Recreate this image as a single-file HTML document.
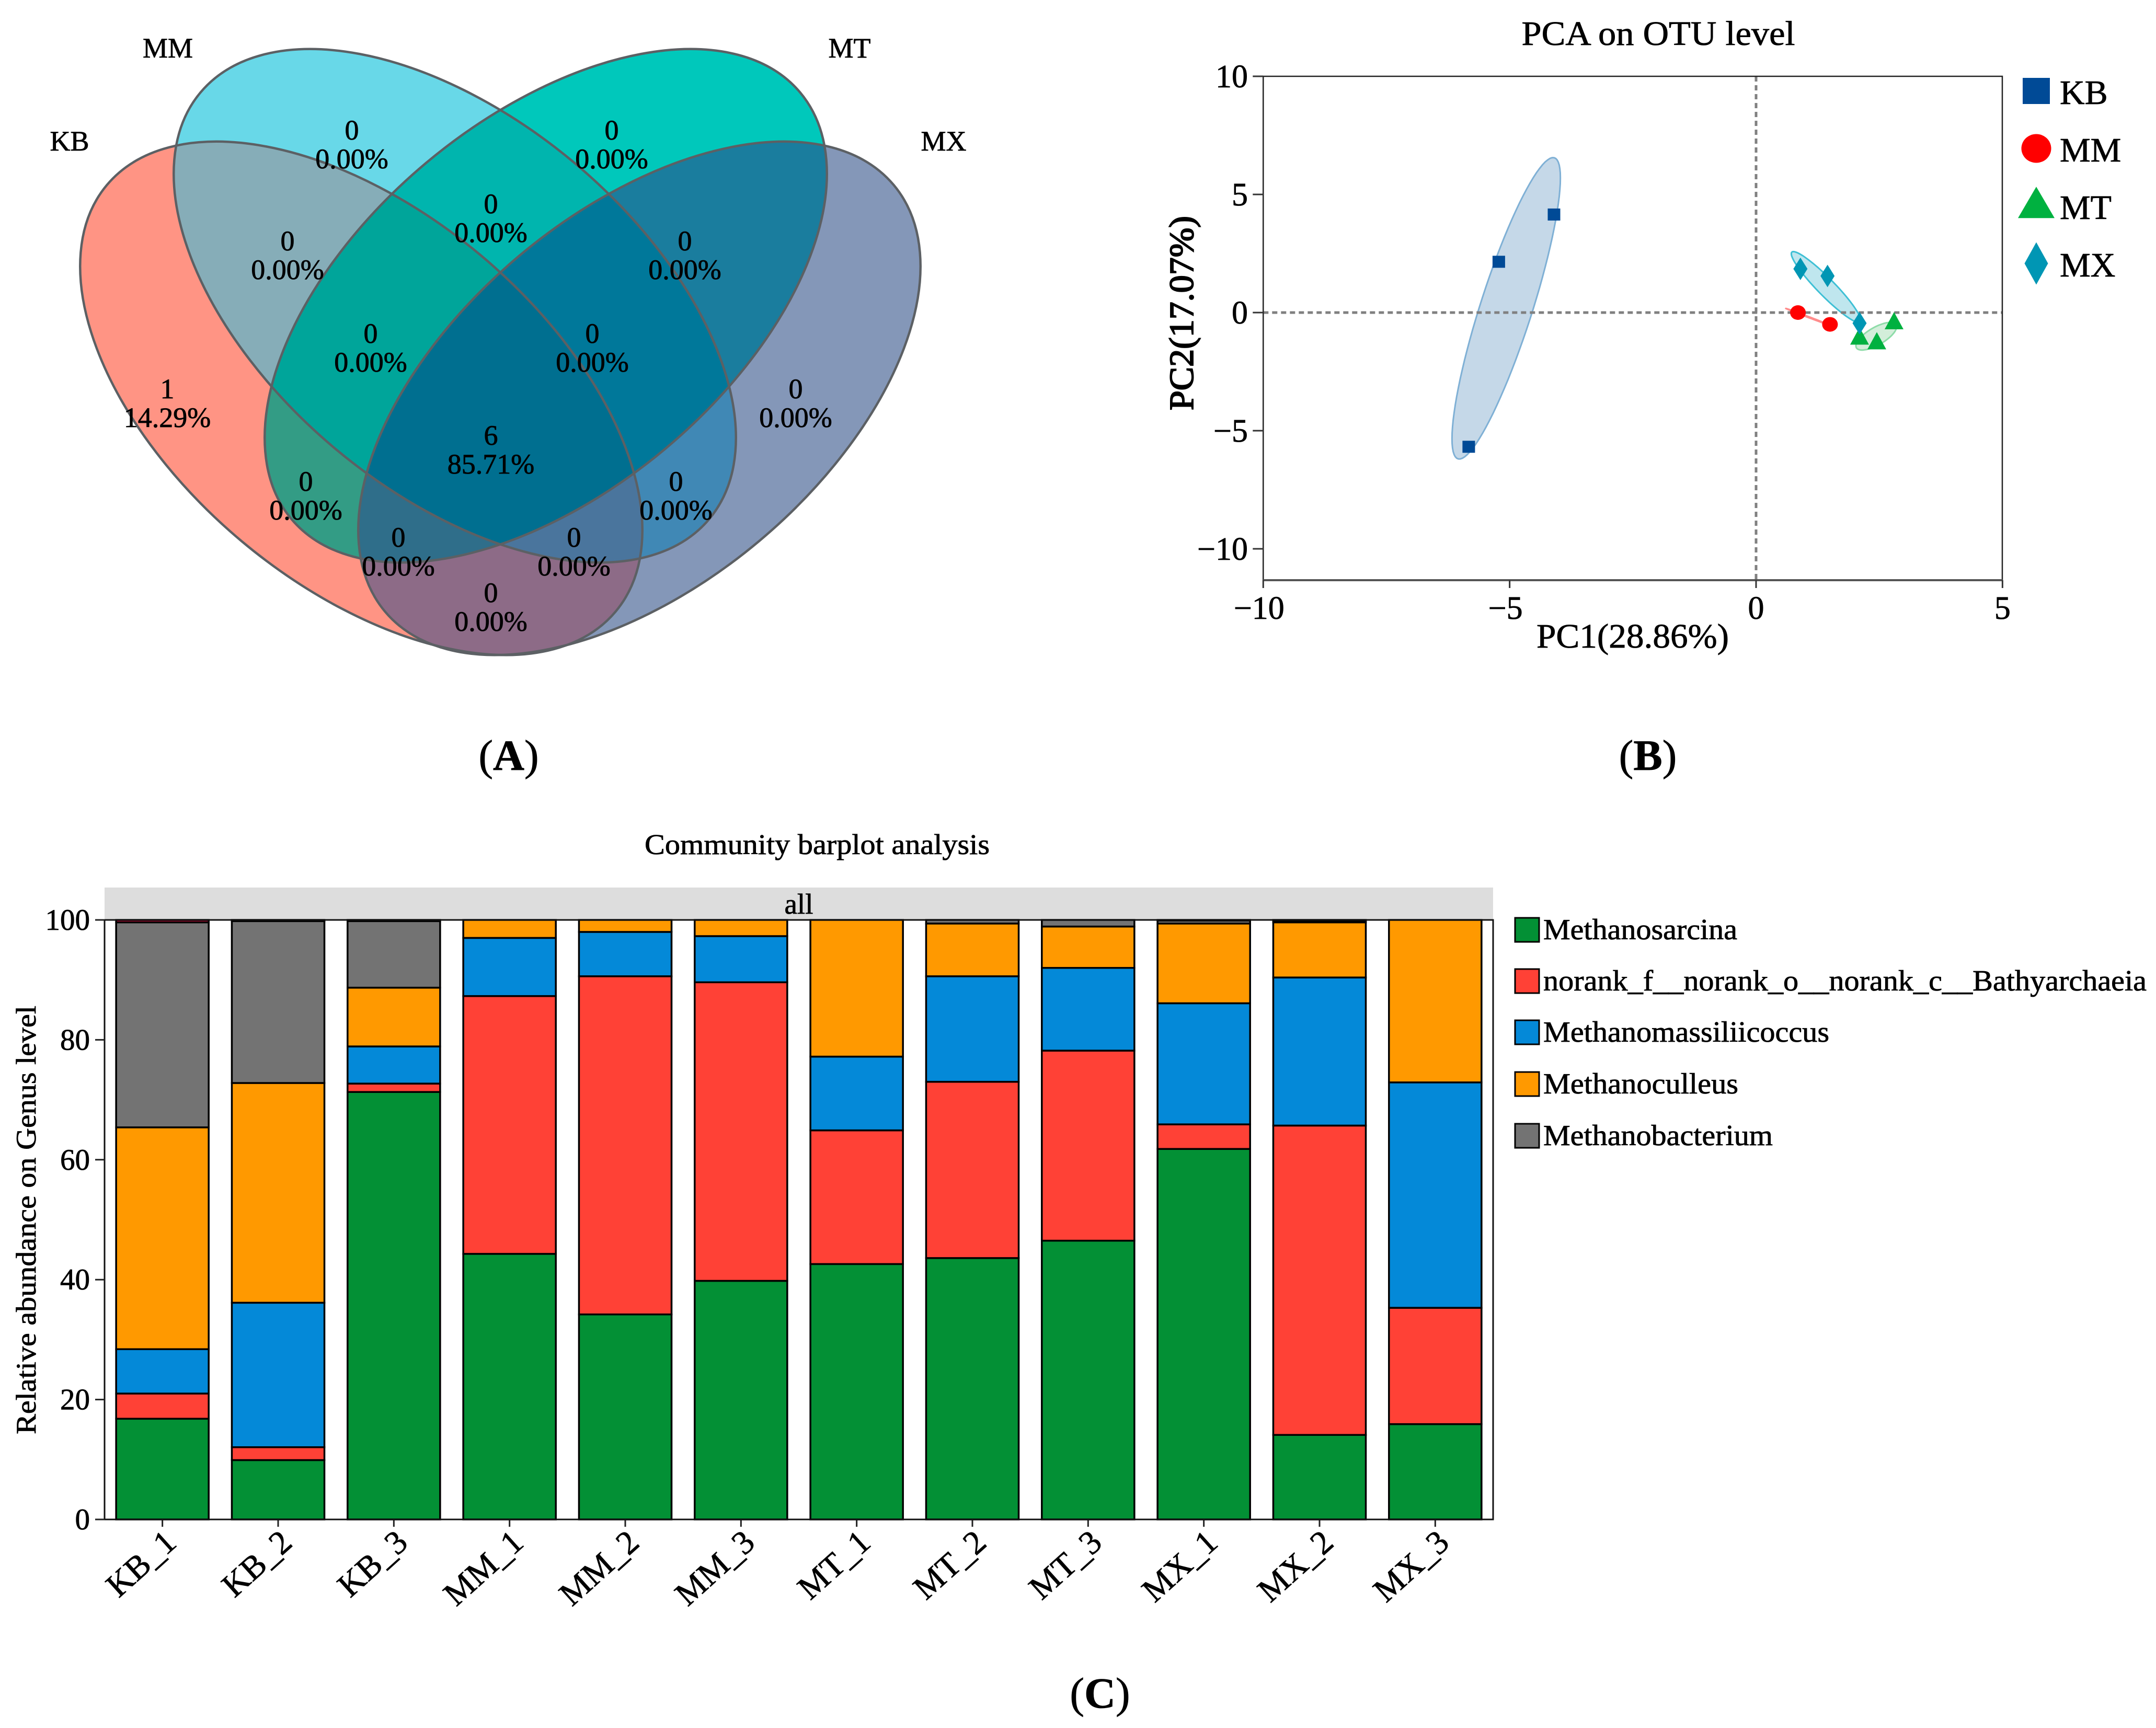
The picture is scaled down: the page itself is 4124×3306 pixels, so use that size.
<!DOCTYPE html>
<html lang="en">
<head>
<meta charset="utf-8">
<title>Venn, PCA and community barplot</title>
<style>
html,body{margin:0;padding:0;background:#fff;}
svg{display:block;}
text{font-family:"Liberation Serif","Times New Roman",serif;fill:#000;stroke:#000;stroke-width:.8px;}
</style>
</head>
<body>
<svg id="fig" xmlns="http://www.w3.org/2000/svg" width="4124" height="3306" viewBox="0 0 4124 3306">
<defs>
<clipPath id="c-kb"><ellipse cx="691" cy="762" rx="635" ry="356.5" transform="rotate(40 691 762)"/></clipPath>
<clipPath id="c-mm"><ellipse cx="870" cy="585" rx="635" ry="356.5" transform="rotate(40 870 585)"/></clipPath>
<clipPath id="c-mt"><ellipse cx="1044" cy="585" rx="635" ry="356.5" transform="rotate(-40 1044 585)"/></clipPath>
<clipPath id="c-mx"><ellipse cx="1223" cy="762" rx="635" ry="356.5" transform="rotate(-40 1223 762)"/></clipPath>
</defs>
<rect width="4124" height="3306" fill="#fff"/>

<g id="venn">
  <g clip-path="url(#c-kb)"><rect width="2000" height="1400" fill="#FF9484"/></g>
  <g clip-path="url(#c-mm)"><rect width="2000" height="1400" fill="#68D8E8"/></g>
  <g clip-path="url(#c-mt)"><rect width="2000" height="1400" fill="#00C8BB"/></g>
  <g clip-path="url(#c-mx)"><rect width="2000" height="1400" fill="#8497B8"/></g>
  <g clip-path="url(#c-kb)"><g clip-path="url(#c-mm)"><rect width="2000" height="1400" fill="#86ADB8"/></g></g>
  <g clip-path="url(#c-mm)"><g clip-path="url(#c-mt)"><rect width="2000" height="1400" fill="#00B5AE"/></g></g>
  <g clip-path="url(#c-mt)"><g clip-path="url(#c-mx)"><rect width="2000" height="1400" fill="#1A7D9E"/></g></g>
  <g clip-path="url(#c-kb)"><g clip-path="url(#c-mt)"><rect width="2000" height="1400" fill="#339C85"/></g></g>
  <g clip-path="url(#c-mm)"><g clip-path="url(#c-mx)"><rect width="2000" height="1400" fill="#4088B5"/></g></g>
  <g clip-path="url(#c-kb)"><g clip-path="url(#c-mx)"><rect width="2000" height="1400" fill="#8D6B87"/></g></g>
  <g clip-path="url(#c-kb)"><g clip-path="url(#c-mm)"><g clip-path="url(#c-mt)"><rect width="2000" height="1400" fill="#00A59A"/></g></g></g>
  <g clip-path="url(#c-mm)"><g clip-path="url(#c-mt)"><g clip-path="url(#c-mx)"><rect width="2000" height="1400" fill="#00789A"/></g></g></g>
  <g clip-path="url(#c-kb)"><g clip-path="url(#c-mt)"><g clip-path="url(#c-mx)"><rect width="2000" height="1400" fill="#2F6E8A"/></g></g></g>
  <g clip-path="url(#c-kb)"><g clip-path="url(#c-mm)"><g clip-path="url(#c-mx)"><rect width="2000" height="1400" fill="#4A759D"/></g></g></g>
  <g clip-path="url(#c-kb)"><g clip-path="url(#c-mm)"><g clip-path="url(#c-mt)"><g clip-path="url(#c-mx)"><rect width="2000" height="1400" fill="#006F90"/></g></g></g></g>
  <g fill="none" stroke="#5c6064" stroke-width="4.5">
    <ellipse cx="691" cy="762" rx="635" ry="356.5" transform="rotate(40 691 762)"/>
    <ellipse cx="870" cy="585" rx="635" ry="356.5" transform="rotate(40 870 585)"/>
    <ellipse cx="1044" cy="585" rx="635" ry="356.5" transform="rotate(-40 1044 585)"/>
    <ellipse cx="1223" cy="762" rx="635" ry="356.5" transform="rotate(-40 1223 762)"/>
  </g>
  <g font-size="54" text-anchor="middle" transform="translate(0 -2)">
    <text x="321" y="112">MM</text>
    <text x="1625" y="112">MT</text>
    <text x="133" y="290">KB</text>
    <text x="1805" y="290">MX</text>
  </g>
  <g font-size="54" text-anchor="middle" transform="translate(0 -2)">
    <text x="673" y="269">0</text><text x="673" y="324">0.00%</text>
    <text x="1170" y="269">0</text><text x="1170" y="324">0.00%</text>
    <text x="550" y="481">0</text><text x="550" y="536">0.00%</text>
    <text x="939" y="410">0</text><text x="939" y="465">0.00%</text>
    <text x="1310" y="481">0</text><text x="1310" y="536">0.00%</text>
    <text x="709" y="658">0</text><text x="709" y="713">0.00%</text>
    <text x="1133" y="658">0</text><text x="1133" y="713">0.00%</text>
    <text x="320" y="764">1</text><text x="320" y="819">14.29%</text>
    <text x="1522" y="764">0</text><text x="1522" y="819">0.00%</text>
    <text x="939" y="853">6</text><text x="939" y="908">85.71%</text>
    <text x="585" y="941">0</text><text x="585" y="996">0.00%</text>
    <text x="1293" y="941">0</text><text x="1293" y="996">0.00%</text>
    <text x="762" y="1048">0</text><text x="762" y="1103">0.00%</text>
    <text x="1098" y="1048">0</text><text x="1098" y="1103">0.00%</text>
    <text x="939" y="1154">0</text><text x="939" y="1209">0.00%</text>
  </g>
</g>

<g font-size="83" text-anchor="middle">
  <text x="973" y="1473">(<tspan font-weight="bold">A</tspan>)</text>
  <text x="3152" y="1473">(<tspan font-weight="bold">B</tspan>)</text>
  <text x="2104" y="3267">(<tspan font-weight="bold">C</tspan>)</text>
</g>

<g id="pca"></g>
<g id="bars"></g>
</svg>

<script>
/* ---------- PCA data ---------- */
const pcaGroups = ['KB', 'MM', 'MT', 'MX'];
const pcaPc1 = [[-4.1, -5.22, -5.83], [0.85, 1.5], [2.1, 2.45, 2.8], [0.9, 1.45, 2.1]];
const pcaPc2 = [[4.15, 2.15, -5.68], [0.0, -0.5], [-1.05, -1.25, -0.4], [1.85, 1.55, -0.45]];
const ellipseCenterX = [-5.07, 1.05, 2.44, 1.42];
const ellipseCenterY = [0.18, -0.18, -1.0, 1.08];
const ellipseHalfX = [1.1, 0.445, 0.414, 0.705];
const ellipseHalfY = [6.38, 0.354, 0.586, 1.5];
const ellipseCorr = [0.865, -0.998, 0.7, -0.94];
const pcaXTicks = [-10, -5, 0, 5];
const pcaYTicks = [10, 5, 0, -5, -10];

/* ---------- Barplot data ---------- */
const samples = ['KB_1','KB_2','KB_3','MM_1','MM_2','MM_3','MT_1','MT_2','MT_3','MX_1','MX_2','MX_3'];
const genusNames = ['Methanosarcina','norank_f__norank_o__norank_c__Bathyarchaeia','Methanomassiliicoccus','Methanoculleus','Methanobacterium'];
const methanosarcina = [16.8, 9.9, 71.3, 44.3, 34.2, 39.8, 42.6, 43.6, 46.5, 61.8, 14.1, 15.9];
const bathyarchaeia = [4.2, 2.15, 1.4, 43.0, 56.4, 49.8, 22.3, 29.4, 31.7, 4.1, 51.6, 19.4];
const methanomassiliicoccus = [7.4, 24.1, 6.2, 9.7, 7.4, 7.7, 12.3, 17.6, 13.8, 20.2, 24.7, 37.6];
const methanoculleus = [37.0, 36.65, 9.8, 3.0, 2.0, 2.7, 22.8, 8.8, 6.9, 13.3, 9.2, 27.1];
const methanobacterium = [34.2, 27.0, 11.1, 0, 0, 0, 0, 0.6, 1.1, 0.5, 0.3, 0];
const others = [0.4, 0.2, 0.2, 0, 0, 0, 0, 0, 0, 0.1, 0.1, 0];
const barYTicks = [0, 20, 40, 60, 80, 100];

const NS = 'http://www.w3.org/2000/svg';
function make(parent, tag, props) {
  const el = document.createElementNS(NS, tag);
  for (const k in props) el.setAttribute(k, props[k]);
  parent.appendChild(el);
  return el;
}
function label(parent, str, x, y, size, anchor, len) {
  const el = make(parent, 'text', {x: x, y: y, 'font-size': size, 'text-anchor': anchor || 'start'});
  if (len) { el.setAttribute('textLength', len); el.setAttribute('lengthAdjust', 'spacingAndGlyphs'); }
  el.textContent = str;
  return el;
}
function fmt(v) { return v < 0 ? '\u2212' + Math.abs(v) : String(v); }

/* ---------- PCA chart ---------- */
(function () {
  const root = document.getElementById('pca');
  const L = 2416.3, R = 3830, T = 146, B = 1110;
  const x = v => 3359 + 94.27 * v;
  const y = v => 598 - 45.2 * v;
  const fills = ['#C5D8E8', '#FFC9C9', '#D3EEDA', '#BFE6EE'];
  const strokes = ['#7FB0D5', '#FF8C8C', '#8EDCA8', '#3FC0D5'];
  const colors = ['#004A96', '#FF0000', '#00B140', '#0096B4'];

  function marker(parent, g, cx, cy, w, h) {
    if (g === 0) return make(parent, 'rect', {x: cx - w / 2, y: cy - h / 2, width: w, height: h, fill: colors[0]});
    if (g === 1) return make(parent, 'ellipse', {cx: cx, cy: cy, rx: w / 2, ry: h / 2, fill: colors[1]});
    if (g === 2) return make(parent, 'polygon', {points: [cx, cy - h * 0.58, cx + w / 2, cy + h * 0.42, cx - w / 2, cy + h * 0.42].join(' '), fill: colors[2]});
    return make(parent, 'polygon', {points: [cx, cy - h / 2, cx + w / 2, cy, cx, cy + h / 2, cx - w / 2, cy].join(' '), fill: colors[3]});
  }

  const title = label(root, 'PCA on OTU level', 3172, 86, 66, 'middle', 523);
  
  

  pcaGroups.forEach(function (g, i) {
    const pts = [];
    const c = ellipseCorr[i], s = Math.sqrt(1 - c * c);
    for (let a = 0; a < 360; a += 4) {
      const t = a * Math.PI / 180;
      const vx = ellipseCenterX[i] + ellipseHalfX[i] * Math.cos(t);
      const vy = ellipseCenterY[i] + ellipseHalfY[i] * (c * Math.cos(t) + s * Math.sin(t));
      pts.push(x(vx).toFixed(1) + ',' + y(vy).toFixed(1));
    }
    const el = make(root, 'polygon', {points: pts.join(' '), fill: fills[i], stroke: strokes[i], 'stroke-width': 3});
    
    
  });

  const zeroH = make(root, 'line', {x1: L, x2: R, y1: y(0), y2: y(0), stroke: '#808080', 'stroke-width': 5, 'stroke-dasharray': '10 7'});
  
  
  const zeroV = make(root, 'line', {x1: x(0), x2: x(0), y1: T, y2: B, stroke: '#808080', 'stroke-width': 5, 'stroke-dasharray': '10 7'});
  
  

  const frame = make(root, 'path', {d: 'M' + L + ' ' + B + 'V' + T + 'H' + R + 'V' + B, fill: 'none', stroke: '#222', 'stroke-width': 2.5});
  
  
  const xAxis = make(root, 'line', {x1: L, x2: R, y1: B, y2: B, stroke: '#555', 'stroke-width': 4});
  
  

  pcaXTicks.forEach(function (v) {
    const tick = make(root, 'line', {x1: x(v), x2: x(v), y1: B, y2: B + 15, stroke: '#333', 'stroke-width': 3});
    
    
    const t = label(root, fmt(v), x(v) - (v < 0 ? 8 : 0), 1184, 62, 'middle');
    
    
  });
  pcaYTicks.forEach(function (v) {
    const tick = make(root, 'line', {x1: L - 20, x2: L, y1: y(v), y2: y(v), stroke: '#333', 'stroke-width': 3});
    
    
    const t = label(root, fmt(v), 2387, y(v) + 21, 62, 'end');
    
    
  });

  const xt = label(root, 'PC1(28.86%)', 3123, 1239, 66, 'middle', 368);
  
  
  const yt = label(root, 'PC2(17.07%)', 0, 0, 66, 'middle', 372);
  yt.setAttribute('transform', 'translate(2282 599) rotate(-90)');
  yt.setAttribute('style', 'stroke-width:2px');
  
  

  const sizes = [[24, 23], [30, 28], [36, 33], [27, 43]];
  pcaGroups.forEach(function (g, i) {
    pcaPc1[i].forEach(function (v, j) {
      const m = marker(root, i, x(v), y(pcaPc2[i][j]), sizes[i][0], sizes[i][1]);
      
      
    });
  });

  const legendY = [174, 284, 392, 504];
  const legendText = [199, 309, 419, 529];
  const legendSize = [[52, 50], [57, 55], [70, 60], [45, 81]];
  pcaGroups.forEach(function (g, i) {
    const m = marker(root, i, 3895, legendY[i], legendSize[i][0], legendSize[i][1]);
    
    
    const t = label(root, g, 3940, legendText[i], 66);
    
    
  });
})();

/* ---------- Stacked bars ---------- */
(function () {
  const root = document.getElementById('bars');
  const L = 200, R = 2856, T = 1760, B = 2907;
  const band = (R - L) / samples.length;
  const barW = band * 0.8;
  const x = i => L + band * (i + 0.5);
  const y = v => B - (B - T) * v / 100;
  const series = [methanosarcina, bathyarchaeia, methanomassiliicoccus, methanoculleus, methanobacterium, others];
  const colors = ['#039035', '#FF4136', '#0489D8', '#FF9900', '#737373', '#C8103C'];

  const title = label(root, 'Community barplot analysis', 1563, 1634, 55, 'middle', 660);
  
  

  const strip = make(root, 'rect', {x: L, y: 1698, width: R - L, height: T - 1698, fill: '#DDDDDD'});
  
  
  const stripLabel = label(root, 'all', (L + R) / 2, 1748, 55, 'middle');
  
  

  samples.forEach(function (name, i) {
    let cum = 0;
    series.forEach(function (vals, s) {
      const v = vals[i];
      if (v > 0) {
        const bar = make(root, 'rect', {x: x(i) - barW / 2, y: y(cum + v), width: barW, height: y(cum) - y(cum + v), fill: colors[s], stroke: '#000', 'stroke-width': 3.5});
        
        
      }
      cum += v;
    });
    const tick = make(root, 'line', {x1: x(i), x2: x(i), y1: B, y2: B + 14, stroke: '#222', 'stroke-width': 3});
    
    
    const t = label(root, name, 0, 0, 64, 'end');
    t.setAttribute('transform', 'translate(' + (x(i) + 30) + ' 2956) rotate(-42)');
    
    
  });

  const frame = make(root, 'path', {d: 'M' + L + ' ' + T + 'V' + B + 'H' + R + 'V' + T + 'H' + L, fill: 'none', stroke: '#111', 'stroke-width': 3});
  
  

  barYTicks.forEach(function (v) {
    const tick = make(root, 'line', {x1: L - 18, x2: L, y1: y(v), y2: y(v), stroke: '#222', 'stroke-width': 3});
    
    
    const t = label(root, String(v), 172, y(v) + 19, 57, 'end');
    
    
  });
  const yt = label(root, 'Relative abundance on Genus level', 0, 0, 54, 'middle', 820);
  yt.setAttribute('transform', 'translate(68 2334) rotate(-90)');
  
  

  const legendRows = [1780, 1878, 1976, 2075, 2174];
  const legendWidths = [371, 1154, 547, 373, 439];
  genusNames.forEach(function (g, i) {
    const sw = make(root, 'rect', {x: 2898, y: legendRows[i] - 24, width: 46, height: 46, fill: colors[i], stroke: '#000', 'stroke-width': 3});
    
    
    const t = label(root, g, 2952, legendRows[i] + 17, 56, 'start', legendWidths[i]);
    
    
  });
})();
</script>
</body>
</html>
